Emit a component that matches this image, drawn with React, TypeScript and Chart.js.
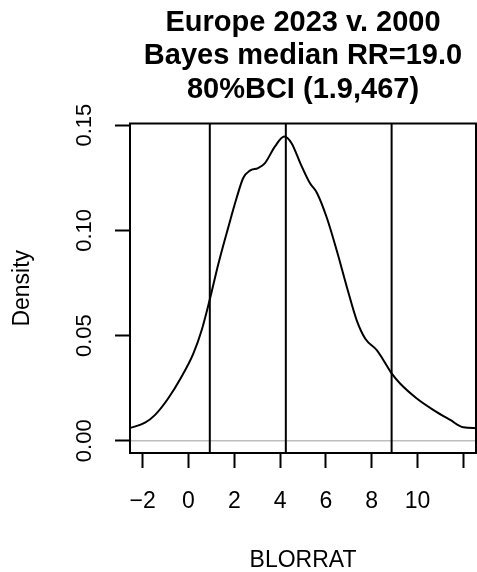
import React, { useEffect, useRef } from 'react';
import { Chart, registerables } from 'chart.js';

Chart.register(...registerables);

const TITLE_LINES = ['Europe 2023 v. 2000', 'Bayes median RR=19.0', '80%BCI (1.9,467)'];
const X_TITLE = 'BLORRAT';
const Y_TITLE = 'Density';

const DENS_X = [-2.58, -1.9, -1.47, -0.89, -0.31, 0.21, 0.57, 0.95, 1.3, 1.73, 2.1, 2.39, 2.68, 3.04, 3.34, 3.77, 4.18, 4.5, 4.88, 5.3, 5.61, 6.04, 6.48, 6.92, 7.35, 7.72, 8.23, 8.52, 8.88, 9.24, 9.97, 10.7, 11.43, 12.0, 12.58];
const DENS_Y = [0.006, 0.0086, 0.0122, 0.0201, 0.0303, 0.0414, 0.0524, 0.0681, 0.0839, 0.1012, 0.1154, 0.1249, 0.1284, 0.1296, 0.132, 0.1398, 0.1446, 0.1414, 0.132, 0.1225, 0.1178, 0.106, 0.0902, 0.0729, 0.0571, 0.0485, 0.043, 0.0382, 0.0319, 0.0272, 0.0201, 0.0146, 0.0099, 0.0064, 0.006];

const CI_LINES = [0.93, 4.25, 8.87];

const X_TICKS = [-2, 0, 2, 4, 6, 8, 10, 12];
const X_TICK_LABELS = ['\u22122', '0', '2', '4', '6', '8', '10', ''];
const Y_TICKS = [0, 0.05, 0.1, 0.15];
const Y_TICK_LABELS = ['0.00', '0.05', '0.10', '0.15'];

const X_MIN = -2.555;
const X_MAX = 12.555;
const Y_MIN = -0.0058;
const Y_MAX = 0.1508;

const FONT = '"Liberation Sans", Arial, Helvetica, sans-serif';

export default function App() {
  const ref = useRef<HTMLCanvasElement>(null);

  useEffect(() => {
    document.body.style.margin = '0';
    const canvas = ref.current;
    if (!canvas) return;

    const boxPlugin = {
      id: 'rbox',
      afterDraw(chart: any) {
        const { ctx, chartArea: a } = chart;
        ctx.save();
        ctx.strokeStyle = '#000';
        ctx.lineWidth = 2;
        ctx.strokeRect(a.left, a.top, a.right - a.left, a.bottom - a.top);
        ctx.restore();
      },
    };

    const datasets: any[] = [];
    datasets.push({
      label: 'density',
      data: DENS_X.map((x, i) => ({ x, y: DENS_Y[i] })),
      borderColor: '#000',
      borderWidth: 2,
      pointRadius: 0,
      showLine: true,
      cubicInterpolationMode: 'monotone',
    });
    CI_LINES.forEach((v, i) => {
      datasets.push({
        label: 'ci' + i,
        data: [
          { x: v, y: Y_MIN },
          { x: v, y: Y_MAX },
        ],
        borderColor: '#000',
        borderWidth: 2,
        pointRadius: 0,
        showLine: true,
      });
    });
    datasets.push({
      label: 'zero',
      data: [
        { x: X_MIN, y: 0 },
        { x: X_MAX, y: 0 },
      ],
      borderColor: '#bebebe',
      borderWidth: 1.5,
      pointRadius: 0,
      showLine: true,
    });

    const chart = new Chart(canvas, {
      type: 'scatter',
      data: { datasets },
      plugins: [boxPlugin],
      options: {
        animation: false,
        responsive: false,
        events: [],
        layout: { padding: { left: 0, right: 1, top: 0, bottom: 0 } },
        plugins: {
          legend: { display: false },
          tooltip: { enabled: false },
          title: {
            display: true,
            fullSize: false,
            text: TITLE_LINES,
            color: '#000',
            font: { family: FONT, size: 29, weight: 'bold', lineHeight: 33.6 / 29 },
            padding: { top: 5.9, bottom: 16.8 },
          },
        },
        scales: {
          x: {
            type: 'linear',
            min: X_MIN,
            max: X_MAX,
            afterBuildTicks: (s: any) => {
              s.ticks = X_TICKS.map((v) => ({ value: v }));
            },
            afterFit: (s: any) => {
              s.height = 119;
              s.paddingLeft = 0;
              s.paddingRight = 0;
            },
            border: { display: false },
            grid: {
              drawOnChartArea: false,
              drawTicks: true,
              tickLength: 15,
              tickWidth: 2,
              tickColor: '#000',
            },
            ticks: {
              color: '#000',
              font: { family: FONT, size: 23 },
              padding: 19.5,
              maxRotation: 0,
              minRotation: 0,
              autoSkip: false,
              callback: (_v: any, i: number) => X_TICK_LABELS[i],
            },
            title: {
              display: true,
              text: X_TITLE,
              color: '#000',
              font: { family: FONT, size: 23, lineHeight: 1 },
              padding: { top: 0, bottom: 0 },
            },
          },
          y: {
            type: 'linear',
            min: Y_MIN,
            max: Y_MAX,
            afterBuildTicks: (s: any) => {
              s.ticks = Y_TICKS.map((v) => ({ value: v }));
            },
            afterFit: (s: any) => {
              s.width = 130;
              s.paddingTop = 0;
              s.paddingBottom = 0;
            },
            border: { display: false },
            grid: {
              drawOnChartArea: false,
              drawTicks: true,
              tickLength: 15,
              tickWidth: 2,
              tickColor: '#000',
            },
            ticks: {
              color: '#000',
              font: { family: FONT, size: 22 },
              minRotation: 90,
              maxRotation: 90,
              crossAlign: 'center',
              padding: 8.6,
              autoSkip: false,
              callback: (_v: any, i: number) => Y_TICK_LABELS[i],
            },
            title: {
              display: true,
              text: Y_TITLE,
              color: '#000',
              font: { family: FONT, size: 23, lineHeight: 1 },
              padding: { top: 11, bottom: 0 },
            },
          },
        },
      } as any,
    });

    return () => chart.destroy();
  }, []);

  return (
    <div style={{ width: 477, height: 572, position: 'relative' }}>
      <canvas ref={ref} width={477} height={572} style={{ display: 'block' }} />
    </div>
  );
}
